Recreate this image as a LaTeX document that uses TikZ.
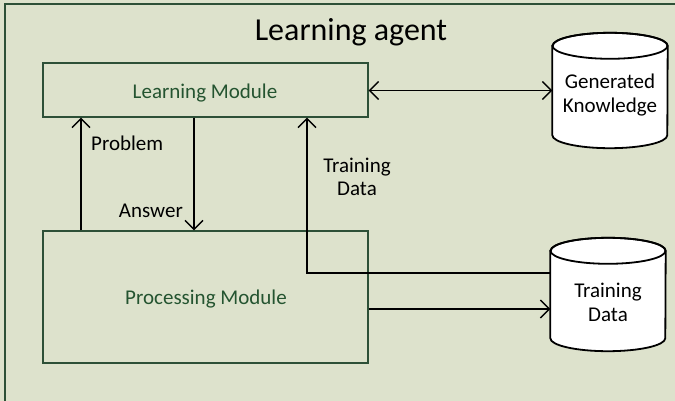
\documentclass[tikz,border=0pt]{standalone}
\usepackage{fontspec}
\setmainfont{Carlito}
\usetikzlibrary{arrows.meta,calc}
\definecolor{bg}{RGB}{221,226,204}
\definecolor{framec}{RGB}{45,80,55}
\definecolor{lbl}{RGB}{36,84,48}
\begin{document}
\begin{tikzpicture}[x=1pt,y=-1pt,
  box/.style={draw=framec, line width=1.3pt, inner sep=0pt},
  lab/.style={font=\fontsize{21}{24}\selectfont, align=center, inner sep=0pt},
  conn/.style={line width=1.4pt, -{Straight Barb[length=9pt,width=18pt,line width=1.4pt]}},
  biconn/.style={line width=1.4pt, {Straight Barb[length=9pt,width=18pt,line width=1.4pt]}-{Straight Barb[length=9pt,width=18pt,line width=1.4pt]}},
  cylbox/.style={draw=none, inner sep=0pt},
  cylline/.style={draw=black, line width=1.8pt, fill=white}]
\useasboundingbox (0,0) rectangle (675,401);
\fill[bg] (0,0) rectangle (675,401);
\draw[framec, line width=2pt] (5,4) rectangle (700,430);
\node[font=\fontsize{32}{38}\selectfont, anchor=base, inner sep=0pt] (title) at (351,41) {Learning agent};
% modules
\node[box, minimum width=325pt, minimum height=54pt] (lm) at (205.5,90) {};
\node[lab, text=lbl, anchor=base] (lmt) at (205,99) {Learning Module};
\node[box, minimum width=325pt, minimum height=132pt] (pm) at (205.5,297) {};
\node[lab, text=lbl, anchor=base] (pmt) at (206,304) {Processing Module};
% cylinders
\node[cylbox, minimum width=115pt, minimum height=115pt] (gk) at (610,90.5) {};
\node[cylbox, minimum width=115pt, minimum height=113pt] (td) at (608,294.5) {};
\foreach \c in {gk,td}{
  \path[cylline] ($(\c.north west)+(0,13)$) -- ($(\c.south west)+(0,-13)$)
    arc[start angle=180, end angle=360, x radius=57.5pt, y radius=13pt]
    -- ($(\c.north east)+(0,13)$)
    arc[start angle=0, end angle=180, x radius=57.5pt, y radius=13pt] -- cycle;
  \draw[line width=1.8pt] ($(\c.north)+(0,13)$) ellipse[x radius=57.5pt, y radius=13pt];
}
\node[lab, anchor=base] (gkt) at (610,113) {Generated\\Knowledge};
\node[lab, anchor=base] (tdt) at (608,321) {Training\\Data};
% connectors
\coordinate (pa) at (81,231);
\draw[conn] (pm.north -| pa) -- (lm.south -| pa);
\coordinate (aa) at (194,117);
\draw[conn] (lm.south -| aa) -- (pm.north -| aa);
\coordinate (ta) at (307,273);
\draw[conn] (td.west |- ta) -- (ta) -- (lm.south -| ta);
\coordinate (pr) at (369,309);
\draw[conn] (pm.east |- pr) -- (td.west |- pr);
\draw[biconn] (lm.east |- gk.west) -- (gk.west);
% labels
\node[lab, anchor=base west] (lp) at (91,151) {Problem};
\node[lab, anchor=base east] (la) at (183,218) {Answer};
\node[lab, anchor=base] (ltd) at (357,196) {Training\\Data};
\end{tikzpicture}
\end{document}
